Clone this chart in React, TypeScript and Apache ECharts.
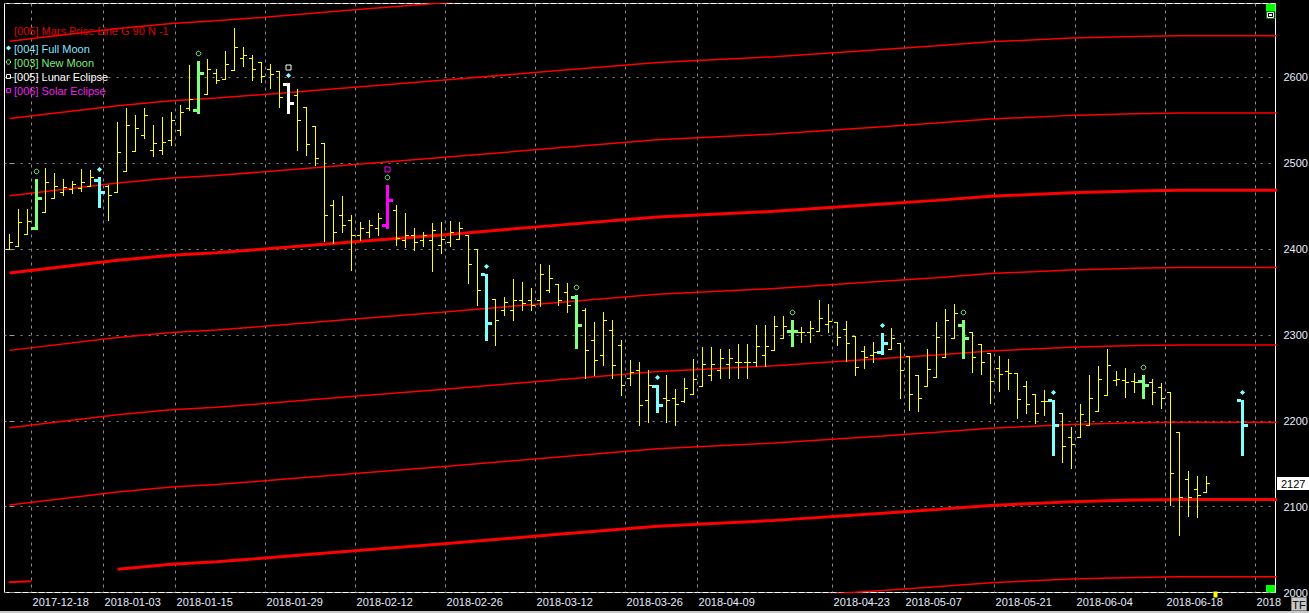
import React, { useEffect, useRef } from "react";
import * as echarts from "echarts";

// ---------- DATA ----------
const opens: (number | null)[] = [
  2400, 2404, 2417, 2425, 2443, 2460, 2467, 2470, 2471, 2474,
  2480, 2473, 2467, 2491, 2514, 2533, 2515, 2515, 2527, 2539,
  2564, 2562, 2581, 2605, 2598, 2608, 2622, 2623, 2618, 2610,
  2607, 2592, 2580, 2565, 2543, 2524, 2451, 2440, 2434, 2416,
  2420, 2425, 2428, 2445, 2411, 2416, 2411, 2411, 2405, 2408,
  2412, 2416, 2400, 2371, 2342, 2329, 2329, 2341, 2341, 2341,
  2352, 2359, 2350, 2344, 2329, 2294, 2277, 2306, 2288, 2250,
  2259, 2224, 2241, 2227, 2226, 2223, 2231, 2240, 2253, 2259,
  2266, 2269, 2269, 2269, 2277, 2282, 2296, 2304, 2303, 2303,
  2305, 2313, 2315, 2307, 2299, 2281, 2277, 2280, 2284, 2291,
  2275, 2253, 2240, 2251, 2274, 2296, 2312, 2303, 2289, 2279,
  2262, 2258, 2256, 2241, 2231, 2223, 2224, 2209, 2181, 2181,
  2195, 2211, 2230, 2247, 2248, 2246, 2246, 2245, 2239, 2233,
  2187, 2132, 2121, 2117, null, null, null, 2224,
];
const highs: (number | null)[] = [
  2418, 2447, 2447, 2482, 2494, 2489, 2482, 2479, 2493, 2492,
  2484, 2475, 2548, 2564, 2556, 2564, 2544, 2554, 2560, 2568,
  2614, 2619, 2621, 2610, 2631, 2657, 2635, 2626, 2618, 2615,
  2607, 2593, 2587, 2565, 2543, 2524, 2457, 2462, 2440, 2431,
  2434, 2442, 2475, 2451, 2442, 2425, 2420, 2430, 2431, 2433,
  2431, 2416, 2400, 2371, 2342, 2344, 2365, 2362, 2355, 2383,
  2381, 2359, 2360, 2346, 2331, 2315, 2327, 2317, 2294, 2271,
  2268, 2259, 2242, 2253, 2237, 2250, 2272, 2286, 2286, 2284,
  2284, 2289, 2289, 2312, 2312, 2322, 2322, 2317, 2309, 2316,
  2341, 2336, 2315, 2316, 2299, 2287, 2292, 2302, 2308, 2291,
  2275, 2253, 2284, 2315, 2330, 2336, 2317, 2303, 2289, 2279,
  2275, 2272, 2256, 2246, 2231, 2236, 2224, 2209, 2193, 2219,
  2253, 2264, 2284, 2258, 2262, 2256, 2253, 2249, 2244, 2233,
  2187, 2141, 2136, 2136, null, null, null, 2224,
];
const lows: (number | null)[] = [
  2400, 2404, 2417, 2423, 2443, 2460, 2463, 2465, 2468, 2474,
  2449, 2434, 2467, 2491, 2514, 2529, 2508, 2511, 2521, 2533,
  2562, 2558, 2581, 2593, 2598, 2608, 2613, 2597, 2594, 2588,
  2565, 2558, 2515, 2509, 2498, 2409, 2407, 2420, 2376, 2411,
  2414, 2416, 2425, 2405, 2402, 2399, 2404, 2374, 2395, 2404,
  2412, 2360, 2335, 2294, 2288, 2323, 2317, 2329, 2329, 2334,
  2350, 2335, 2327, 2285, 2250, 2253, 2265, 2250, 2230, 2242,
  2195, 2199, 2210, 2198, 2195, 2222, 2231, 2240, 2247, 2250,
  2250, 2250, 2250, 2264, 2264, 2282, 2296, 2287, 2292, 2292,
  2305, 2303, 2288, 2270, 2253, 2261, 2269, 2278, 2284, 2227,
  2213, 2211, 2240, 2251, 2274, 2296, 2273, 2257, 2254, 2221,
  2235, 2237, 2203, 2209, 2197, 2207, 2160, 2152, 2145, 2181,
  2195, 2211, 2230, 2242, 2228, 2233, 2226, 2220, 2215, 2102,
  2067, 2089, 2088, 2117, null, null, null, 2160,
];
const closes: (number | null)[] = [
  2408, 2431, 2433, 2460, 2478, 2474, 2472, 2476, 2478, 2484,
  2467, 2463, 2513, 2544, 2541, 2556, 2523, 2525, 2550, 2560,
  2575, 2605, 2610, 2597, 2616, 2635, 2626, 2610, 2602, 2604,
  2577, 2570, 2550, 2522, 2506, 2440, 2420, 2428, 2416, 2425,
  2428, 2436, 2457, 2413, 2416, 2408, 2416, 2422, 2412, 2420,
  2425, 2383, 2352, 2314, 2317, 2338, 2341, 2337, 2335, 2371,
  2366, 2341, 2335, 2312, 2282, 2271, 2317, 2265, 2242, 2257,
  2218, 2242, 2218, 2224, 2219, 2238, 2249, 2266, 2266, 2273,
  2273, 2269, 2269, 2287, 2287, 2310, 2310, 2304, 2303, 2308,
  2320, 2316, 2298, 2291, 2263, 2274, 2280, 2291, 2296, 2259,
  2231, 2227, 2260, 2298, 2317, 2326, 2296, 2274, 2268, 2246,
  2254, 2256, 2225, 2220, 2209, 2223, 2195, 2171, 2173, 2208,
  2227, 2249, 2265, 2249, 2245, 2245, 2242, 2233, 2227, 2139,
  2111, 2111, 2113, 2127, null, null, null, 2195,
];

const fullMoonIdx = [10, 31, 53, 72, 97, 116, 137];
const newMoonIdx = [3, 21, 42, 63, 87, 106, 126];
const lunarEclipseIdx = [31];
const solarEclipseIdx = [42];

const xTickIdx = [2, 10, 18, 28, 38, 48, 58, 68, 76, 91, 99, 109, 118, 128, 138];
const xTickLabels = [
  "2017-12-18", "2018-01-03", "2018-01-15", "2018-01-29", "2018-02-12",
  "2018-02-26", "2018-03-12", "2018-03-26", "2018-04-09", "2018-04-23",
  "2018-05-07", "2018-05-21", "2018-06-04", "2018-06-18", "2018",
];

// Mars price lines: common rising profile + harmonic levels (G 90)
const marsIdx = [0, 12, 18, 23, 28, 38, 48, 60, 72, 85, 97, 103, 109, 118, 125, 130, 141];
const marsShift = [0, 15, 20.8, 23.8, 27.8, 36.3, 44.5, 55, 65.3, 72, 80.4, 84.7, 89.4, 93.7, 95.6, 96.4, 96.4];
const marsBase = [1922, 2012, 2102, 2192, 2282, 2372, 2462, 2552, 2642];
const marsThick = [false, true, false, false, false, true, false, false, false];
const marsStart = [0, 12, 0, 0, 0, 0, 0, 0, 0];
const marsFragment = [[-0.1, 2012], [2.4, 2013]];

const yMin = 2000;
const yMax = 2686;
const yStep = 100;

// ---------- STYLE / LAYOUT ----------
const FONT = '"Liberation Sans", Arial, sans-serif';
const LABEL_COLOR = "#E6ECFF";
const GRID_COLOR = "#8A8A8A";
const C_BAR = "#FFFF00";
const C_FULL = "#80FFFF";
const C_NEW = "#80FF80";
const C_LUNAR = "#FFFFFF";
const C_SOLAR = "#FF00FF";
const C_MARS = "#FF0000";

const GRID_LEFT = 4.5;
const GRID_RIGHT = 33.5;
const GRID_TOP = 3.5;
const GRID_BOTTOM = 20.5;
const PLOT_W = 1309 - GRID_LEFT - GRID_RIGHT;
const BAR_STEP = 9;
const X_MIN = -5 / BAR_STEP;
const X_MAX = X_MIN + PLOT_W / BAR_STEP;
const TICK_OFFSET = 0.45;

function diamond(cx: number, cy: number, r: number) {
  return [[cx, cy - r], [cx + r, cy], [cx, cy + r], [cx - r, cy]];
}

function buildOption() {
  const ohlc: number[][] = [];
  for (let i = 0; i < opens.length; i++) {
    if (opens[i] == null) continue;
    let kind = 0;
    if (fullMoonIdx.includes(i)) kind = 1;
    if (newMoonIdx.includes(i)) kind = 2;
    if (lunarEclipseIdx.includes(i)) kind = 3;
    if (solarEclipseIdx.includes(i)) kind = 4;
    ohlc.push([i, opens[i] as number, highs[i] as number, lows[i] as number, closes[i] as number, kind]);
  }
  const lastIdx = opens.slice(0, 134).length - 1;
  const tickVals = xTickIdx.map((k) => k + TICK_OFFSET);

  const renderOHLC = (params: any, api: any) => {
    const i = api.value(0);
    const o = api.value(1), h = api.value(2), l = api.value(3), c = api.value(4);
    const kind = api.value(5);
    const ph = api.coord([i, h]);
    const pl = api.coord([i, l]);
    const po = api.coord([i, o]);
    const pc = api.coord([i, c]);
    const xc = Math.floor(ph[0]);
    const color = [C_BAR, C_FULL, C_NEW, C_LUNAR, C_SOLAR][kind];
    const yH = Math.round(ph[1]);
    const yL = Math.round(pl[1]);
    const yO = Math.round(po[1]);
    const yC = Math.round(pc[1]);
    const ch: any[] = [];
    if (kind === 0) {
      ch.push({ type: "rect", shape: { x: xc, y: yH, width: 1, height: yL - yH + 1 }, style: { fill: color } });
      ch.push({ type: "rect", shape: { x: xc - 3, y: yO, width: 3, height: 1 }, style: { fill: color } });
      ch.push({ type: "rect", shape: { x: xc + 1, y: yC, width: 3, height: 1 }, style: { fill: color } });
    } else {
      ch.push({ type: "rect", shape: { x: xc - 1, y: yH, width: 3, height: yL - yH + 1 }, style: { fill: color } });
      ch.push({ type: "rect", shape: { x: xc - 5, y: yO - 1, width: 4, height: 3 }, style: { fill: color } });
      ch.push({ type: "rect", shape: { x: xc + 2, y: yC - 1, width: 4, height: 3 }, style: { fill: color } });
      const my = yH - 7.5;
      if (kind === 1 || kind === 3) {
        ch.push({ type: "polygon", shape: { points: diamond(xc + 0.5, my, 2.6) }, style: { fill: C_FULL } });
      }
      if (kind === 2 || kind === 4) {
        ch.push({ type: "circle", shape: { cx: xc + 0.5, cy: my, r: 2.3 }, style: { fill: "none", stroke: C_NEW, lineWidth: 1 } });
      }
      if (kind === 3) {
        ch.push({ type: "rect", shape: { x: xc - 2, y: my - 10.5, width: 5, height: 5 }, style: { fill: "none", stroke: C_LUNAR, lineWidth: 1 } });
      }
      if (kind === 4) {
        ch.push({ type: "rect", shape: { x: xc - 2, y: my - 10.5, width: 5, height: 5 }, style: { fill: "none", stroke: C_SOLAR, lineWidth: 1 } });
      }
    }
    return { type: "group", children: ch };
  };

  const renderLast = (params: any, api: any) => {
    const i = api.value(0);
    const v = api.value(1);
    const cs = params.coordSys;
    const p = api.coord([i, v]);
    const pb = api.coord([i + 1, yMin]);
    const right = cs.x + cs.width;
    const y = Math.round(p[1]);
    return {
      type: "group",
      children: [
        { type: "rect", shape: { x: right + 1.5, y: y - 6, width: 33, height: 13 }, style: { fill: "#FFFFFF" } },
        {
          type: "text",
          x: right + 5.5,
          y: y + 0.5,
          style: { text: String(v), fill: "#000000", fontSize: 11, fontFamily: FONT, verticalAlign: "middle", align: "left" },
        },
        { type: "rect", shape: { x: Math.floor(pb[0]) - 1.5, y: Math.round(pb[1]) - 1.5, width: 4, height: 6 }, style: { fill: C_BAR } },
      ],
    };
  };

  const series: any[] = [];
  marsBase.forEach((base, j) => {
    const start = marsStart[j];
    series.push({
      type: "line",
      data: marsIdx.map((k, n) => [k, base + marsShift[n]]).filter((d) => d[0] >= start),
      symbol: "none",
      silent: true,
      z: 1,
      lineStyle: { color: C_MARS, width: marsThick[j] ? 3 : 1.5 },
    });
  });
  series.push({
    type: "line",
    data: marsFragment,
    symbol: "none",
    silent: true,
    z: 1,
    lineStyle: { color: C_MARS, width: 2 },
  });
  series.push({
    type: "custom",
    renderItem: renderOHLC,
    data: ohlc,
    encode: { x: 0, y: [1, 2, 3, 4] },
    z: 3,
    silent: true,
  });
  series.push({
    type: "custom",
    renderItem: renderLast,
    data: [[lastIdx, closes[lastIdx] as number]],
    encode: { x: 0, y: 1 },
    clip: false,
    z: 5,
    silent: true,
  });

  const legend = [
    { t: "[004] Full Moon", c: "#86E4FF", y: 48.5 },
    { t: "[003] New Moon", c: "#7CEB7C", y: 62.5 },
    { t: "[005] Lunar Eclipse", c: "#FFFFFF", y: 76.5 },
    { t: "[006] Solar Eclipse", c: "#F020F0", y: 90.5 },
  ];
  const graphic: any[] = [
    {
      type: "text",
      x: 14,
      y: 30.5,
      z: 10,
      style: { text: "[005] Mars Price Line G 90 N -1", fill: "#E00000", fontSize: 11, fontFamily: FONT, verticalAlign: "middle" },
    },
    ...legend.map((it) => ({
      type: "text",
      x: 14,
      y: it.y,
      z: 10,
      style: { text: it.t, fill: it.c, fontSize: 11, fontFamily: FONT, verticalAlign: "middle" },
    })),
    { type: "polygon", z: 10, shape: { points: diamond(8.5, 48, 2.6) }, style: { fill: C_FULL } },
    { type: "circle", z: 10, shape: { cx: 8.5, cy: 62, r: 2.2 }, style: { fill: "none", stroke: C_NEW, lineWidth: 1 } },
    { type: "rect", z: 10, shape: { x: 6.5, y: 74.5, width: 4, height: 4 }, style: { fill: "none", stroke: C_LUNAR, lineWidth: 1 } },
    { type: "rect", z: 10, shape: { x: 6.5, y: 88.5, width: 4, height: 4 }, style: { fill: "none", stroke: C_SOLAR, lineWidth: 1 } },
    // top-right green box with icon
    { type: "rect", z: 10, shape: { x: 1266, y: 4, width: 9.5, height: 7.5 }, style: { fill: "#00FF00" } },
    { type: "rect", z: 10, shape: { x: 1266.5, y: 11.5, width: 8.5, height: 7 }, style: { fill: "#000000", stroke: "#008000", lineWidth: 1 } },
    { type: "rect", z: 11, shape: { x: 1267.5, y: 12.5, width: 6, height: 5 }, style: { fill: "none", stroke: "#FFFFFF", lineWidth: 1 } },
    { type: "rect", z: 11, shape: { x: 1269, y: 14, width: 3, height: 2 }, style: { fill: "#FFFFFF" } },
    // bottom-right green box
    { type: "rect", z: 10, shape: { x: 1266, y: 585, width: 9, height: 7.5 }, style: { fill: "#00FF00" } },
    // bottom strip
    { type: "rect", z: 10, shape: { x: 0, y: 611, width: 1309, height: 2 }, style: { fill: "#C8C8C8" } },
    // TF button
    { type: "rect", z: 10, shape: { x: 1291.5, y: 597.5, width: 15, height: 13 }, style: { fill: "#C8C8C8", stroke: "#808080", lineWidth: 1 } },
    {
      type: "text",
      x: 1299,
      y: 604.5,
      z: 11,
      style: { text: "TF", fill: "#000000", fontSize: 11, fontFamily: FONT, align: "center", verticalAlign: "middle" },
    },
  ];

  return {
    animation: false,
    backgroundColor: "#000000",
    grid: {
      left: GRID_LEFT,
      right: GRID_RIGHT,
      top: GRID_TOP,
      bottom: GRID_BOTTOM,
      show: true,
      borderColor: "#FFFFFF",
      borderWidth: 1,
      backgroundColor: "transparent",
      containLabel: false,
      outerBoundsMode: "none",
    },
    xAxis: {
      type: "value",
      min: X_MIN,
      max: X_MAX,
      axisLine: { show: false },
      axisTick: { show: false, customValues: tickVals },
      axisLabel: {
        customValues: tickVals,
        formatter: (v: number) => {
          const j = tickVals.findIndex((t) => Math.abs(t - v) < 1e-6);
          return j >= 0 ? xTickLabels[j] : "";
        },
        align: "left",
        margin: 4,
        padding: [0, 0, 0, 1],
        color: LABEL_COLOR,
        fontSize: 11,
        fontFamily: FONT,
      },
      splitLine: { show: true, lineStyle: { color: GRID_COLOR, width: 1, type: [3, 4] } },
    },
    yAxis: {
      type: "value",
      position: "right",
      min: yMin,
      max: yMax,
      interval: yStep,
      axisLine: { show: false },
      axisTick: { show: true, length: 4, lineStyle: { color: "#A0A0A0" } },
      axisLabel: {
        margin: 8,
        color: LABEL_COLOR,
        fontSize: 11,
        fontFamily: FONT,
        formatter: (v: number) => (v % yStep === 0 ? String(v) : ""),
      },
      splitLine: { show: true, lineStyle: { color: GRID_COLOR, width: 1, type: [2, 6] } },
    },
    series,
    graphic,
  };
}

export default function App() {
  const ref = useRef<HTMLDivElement>(null);
  useEffect(() => {
    if (!ref.current) return;
    const chart = echarts.init(ref.current, null, { renderer: "svg" });
    chart.setOption(buildOption() as any);
    return () => chart.dispose();
  }, []);
  return (
    <div
      ref={ref}
      style={{ position: "absolute", left: 0, top: 0, width: 1309, height: 613, background: "#000" }}
    />
  );
}
